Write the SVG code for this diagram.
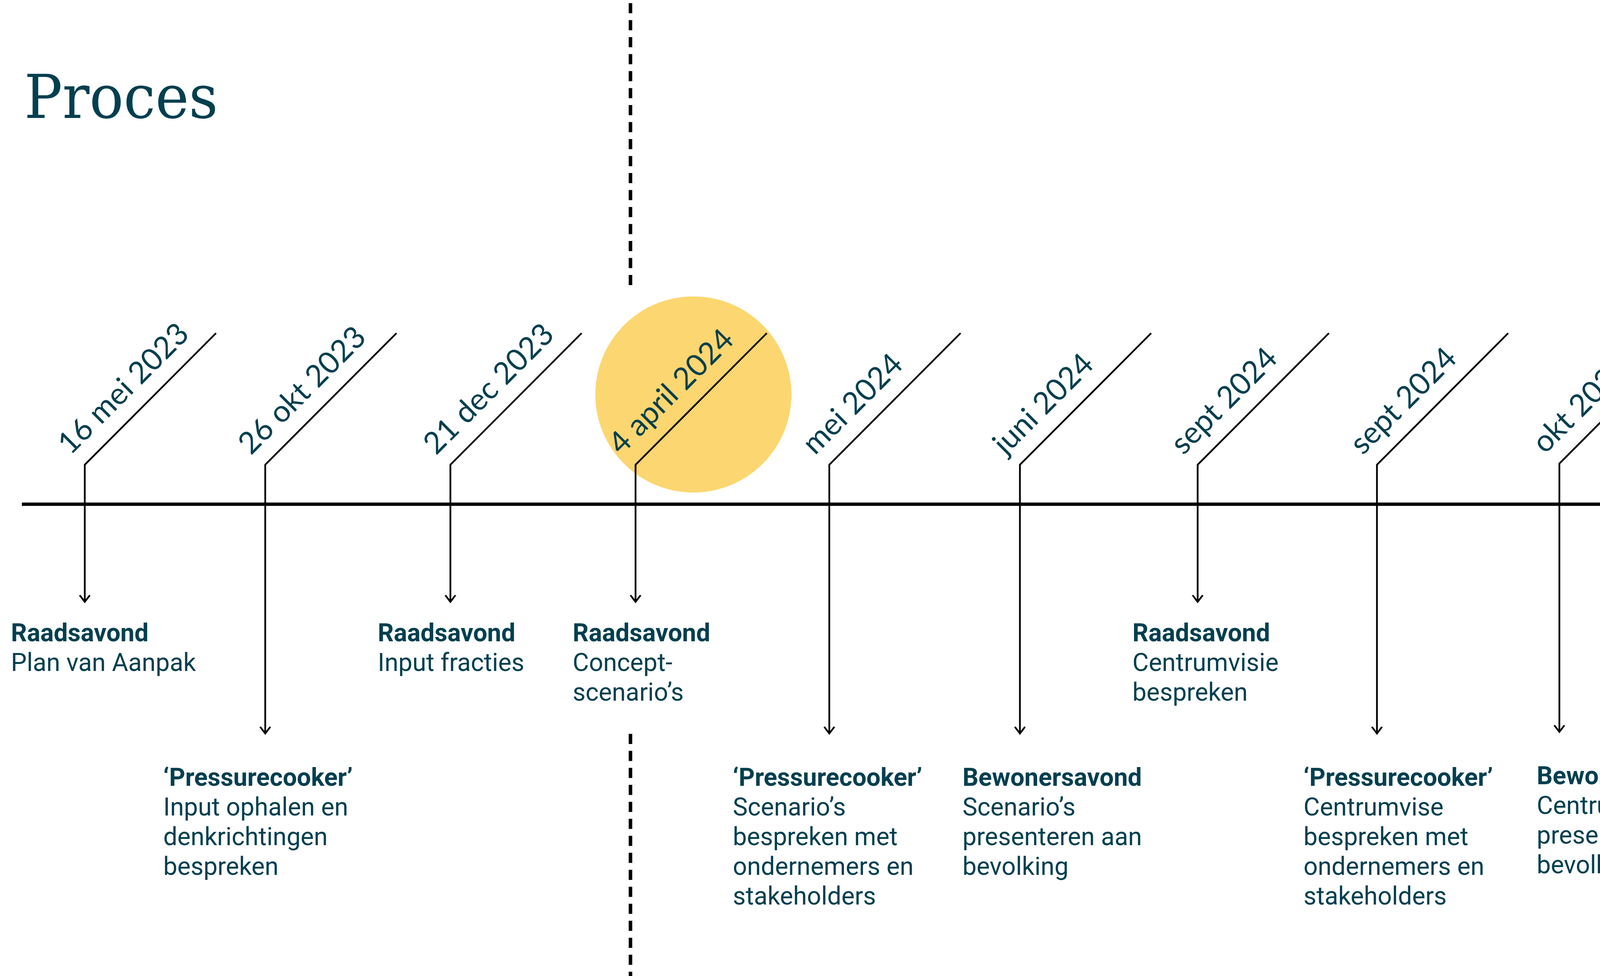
<svg xmlns="http://www.w3.org/2000/svg" width="4855" height="2499" viewBox="0 0 4855 2499">
<style>
.title{font-family:"Roboto Slab","DejaVu Serif",serif;font-size:156px;fill:#023f4f}
.date{font-family:Lato,"Open Sans",sans-serif;font-size:78px;fill:#023f4f}
.lbl{font-family:Roboto,"Liberation Sans",sans-serif;font-size:64px;fill:#023f4f}
.b{font-weight:700}
.conn{fill:none;stroke:#000;stroke-width:4.5;stroke-linejoin:miter;marker-end:url(#arr)}
.dash{fill:none;stroke:#000;stroke-width:9;stroke-dasharray:26 17.5}
.hl{fill:#fcd670}
</style>
<defs>
<marker id="arr" markerUnits="userSpaceOnUse" viewBox="-22 -16 26 32" markerWidth="26" markerHeight="32" refX="0" refY="0" orient="auto">
<path d="M-17,-13 L0,0 L-17,13" fill="none" stroke="#000" stroke-width="4.5"/>
</marker>
</defs>
<rect width="4855" height="2499" fill="#fff"/>
<text class="title" x="62" y="302" textLength="496" lengthAdjust="spacingAndGlyphs">Proces</text>
<g id="highlights">
<circle class="hl" cx="1775" cy="1010" r="251"/>
<circle class="hl" cx="4562" cy="1010" r="253"/>
</g>
<g id="divider">
<line class="dash" x1="1614" y1="8" x2="1614" y2="731"/>
<line class="dash" x1="1614" y1="1879" x2="1614" y2="2499"/>
</g>
<line id="timeline" x1="56" y1="1291" x2="4615" y2="1291" stroke="#000" stroke-width="8.5"/>
<g id="connectors">
<path class="conn" d="M553,853 L217,1190 L217,1541"/>
<path class="conn" d="M1015,853 L679,1190 L679,1878"/>
<path class="conn" d="M1489,853 L1153,1190 L1153,1541"/>
<path class="conn" d="M1963,853 L1627,1190 L1627,1541"/>
<path class="conn" d="M2459,853 L2123,1190 L2123,1878"/>
<path class="conn" d="M2947,853 L2611,1190 L2611,1878"/>
<path class="conn" d="M3402,853 L3066,1190 L3066,1541"/>
<path class="conn" d="M3861,853 L3525,1190 L3525,1878"/>
<path class="conn" d="M4328,850 L3992,1187 L3992,1874"/>
<path class="conn" d="M4789,850 L4453,1187 L4453,1537"/>
</g>
<g id="e1">
<text class="date" transform="translate(217,1190) rotate(-45)" x="-10" y="-42">16 mei 2023</text>
<text class="lbl" x="28" y="1642"><tspan class="b">Raadsavond</tspan><tspan x="28" dy="76">Plan van Aanpak</tspan></text>
</g>
<g id="e2">
<text class="date" transform="translate(679,1190) rotate(-45)" x="-10" y="-42">26 okt 2023</text>
<text class="lbl" x="418" y="2012"><tspan class="b">‘Pressurecooker’</tspan><tspan x="418" dy="76">Input ophalen en</tspan><tspan x="418" dy="76">denkrichtingen</tspan><tspan x="418" dy="76">bespreken</tspan></text>
</g>
<g id="e3">
<text class="date" transform="translate(1153,1190) rotate(-45)" x="-10" y="-42">21 dec 2023</text>
<text class="lbl" x="967" y="1642"><tspan class="b">Raadsavond</tspan><tspan x="967" dy="76">Input fracties</tspan></text>
</g>
<g id="e4">
<text class="date" transform="translate(1627,1190) rotate(-45)" x="-10" y="-42">4 april 2024</text>
<text class="lbl" x="1466" y="1642"><tspan class="b">Raadsavond</tspan><tspan x="1466" dy="76">Concept-</tspan><tspan x="1466" dy="76">scenario’s</tspan></text>
</g>
<g id="e5">
<text class="date" transform="translate(2123,1190) rotate(-45)" x="-10" y="-42">mei 2024</text>
<text class="lbl" x="1876" y="2012"><tspan class="b">‘Pressurecooker’</tspan><tspan x="1876" dy="76">Scenario’s</tspan><tspan x="1876" dy="76">bespreken met</tspan><tspan x="1876" dy="76">ondernemers en</tspan><tspan x="1876" dy="76">stakeholders</tspan></text>
</g>
<g id="e6">
<text class="date" transform="translate(2611,1190) rotate(-45)" x="-10" y="-42">juni 2024</text>
<text class="lbl" x="2464" y="2012"><tspan class="b">Bewonersavond</tspan><tspan x="2464" dy="76">Scenario’s</tspan><tspan x="2464" dy="76">presenteren aan</tspan><tspan x="2464" dy="76">bevolking</tspan></text>
</g>
<g id="e7">
<text class="date" transform="translate(3066,1190) rotate(-45)" x="-10" y="-42">sept 2024</text>
<text class="lbl" x="2899" y="1642"><tspan class="b">Raadsavond</tspan><tspan x="2899" dy="76">Centrumvisie</tspan><tspan x="2899" dy="76">bespreken</tspan></text>
</g>
<g id="e8">
<text class="date" transform="translate(3525,1190) rotate(-45)" x="-10" y="-42">sept 2024</text>
<text class="lbl" x="3337" y="2012"><tspan class="b">‘Pressurecooker’</tspan><tspan x="3337" dy="76">Centrumvise</tspan><tspan x="3337" dy="76">bespreken met</tspan><tspan x="3337" dy="76">ondernemers en</tspan><tspan x="3337" dy="76">stakeholders</tspan></text>
</g>
<g id="e9">
<text class="date" transform="translate(3992,1187) rotate(-45)" x="-10" y="-42">okt 2024</text>
<text class="lbl" x="3934" y="2008"><tspan class="b">Bewonersavond</tspan><tspan x="3934" dy="76">Centrumvise</tspan><tspan x="3934" dy="76">presenteren aan</tspan><tspan x="3934" dy="76">bevolking</tspan></text>
</g>
<g id="e10">
<text class="date" transform="translate(4453,1187) rotate(-45)" x="-10" y="-42">dec 2024</text>
<text class="lbl" x="4298" y="1638"><tspan class="b">Raadsavond</tspan><tspan x="4298" dy="76">Centrumvise</tspan><tspan x="4298" dy="76">vaststellen</tspan></text>
</g>
</svg>
